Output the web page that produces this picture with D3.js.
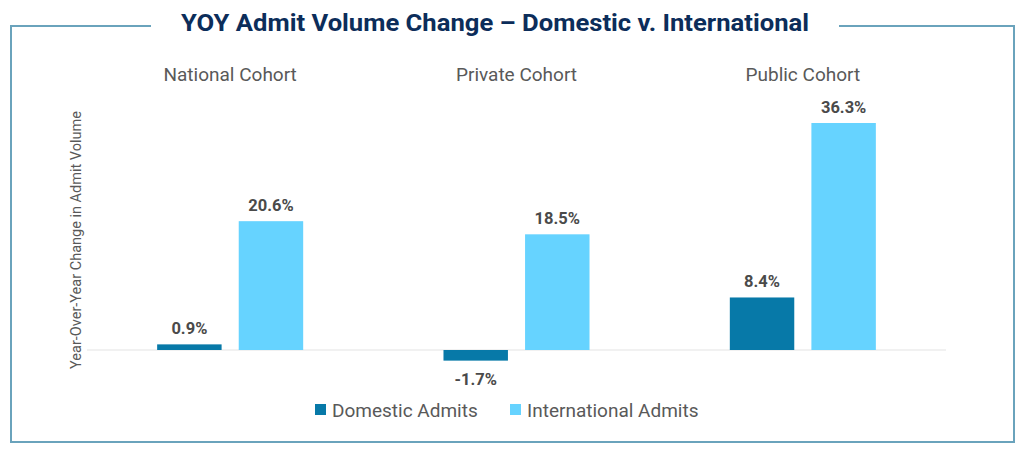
<!DOCTYPE html>
<html>
<head>
<meta charset="utf-8">
<script src="https://cdn.jsdelivr.net/npm/d3@7"></script>
<style>
  html, body { margin: 0; padding: 0; background: #fff; }
  svg { display: block; font-family: Roboto, "Noto Sans", sans-serif; }
</style>
</head>
<body>
<svg id="chart" width="1024" height="456"></svg>
<script>
// chart values
const cohorts = ['National Cohort', 'Private Cohort', 'Public Cohort']
const seriesNames = ['Domestic Admits', 'International Admits']
const domestic = [0.9, -1.7, 8.4]
const international = [20.6, 18.5, 36.3]

const colors = { domestic: '#0779a8', international: '#66d3ff' }
const textGray = '#595959'

const width = 1024, height = 456
const margin = { left: 87, right: 78, top: 123, bottom: 106 }
const svg = d3.select('#chart')

// frame round the chart, broken by the title
const frame = { x0: 11, x1: 1014, y0: 26, y1: 442 }
const titleGap = [151, 839]
const frameColor = '#6aa3bc'
svg.append('path')
    .attr('d', `M${titleGap[0]},${frame.y0} H${frame.x0} V${frame.y1} H${frame.x1} V${frame.y0} H${titleGap[1]}`)
    .attr('fill', 'none')
    .attr('stroke', frameColor)
    .attr('stroke-width', 2)

svg.append('text')
    .attr('x', 495)
    .attr('y', 31)
    .attr('text-anchor', 'middle')
    .attr('font-size', 23.5)
    .attr('font-weight', 700)
    .attr('fill', '#0c2d5a')
    .attr('textLength', 628)
    .attr('lengthAdjust', 'spacingAndGlyphs')
    .text('YOY Admit Volume Change \u2013 Domestic v. International')

const data = cohorts.map((c, i) => ({
    cohort: c,
    values: [
        { key: 'domestic', value: domestic[i] },
        { key: 'international', value: international[i] }
    ]
}))

const x0 = d3.scaleBand()
    .domain(cohorts)
    .range([margin.left, width - margin.right])

const x1 = d3.scaleBand()
    .domain(['domestic', 'international'])
    .range([x0.bandwidth() * 0.245, x0.bandwidth() * 0.755])
    .paddingInner(0.21)

const y = d3.scaleLinear()
    .domain([0, 36.3])
    .range([350, 123])

// zero line
svg.append('line')
    .attr('x1', margin.left)
    .attr('x2', width - margin.right)
    .attr('y1', y(0))
    .attr('y2', y(0))
    .attr('stroke', '#e3e3e3')
    .attr('stroke-width', 1.2)

// cohort labels at the top
svg.append('g')
    .selectAll('text')
    .data(cohorts)
    .join('text')
    .attr('x', d => x0(d) + x0.bandwidth() / 2)
    .attr('y', 81)
    .attr('text-anchor', 'middle')
    .attr('font-size', 19)
    .attr('fill', textGray)
    .text(d => d)

// y axis title
svg.append('text')
    .attr('transform', 'translate(81,240) rotate(-90)')
    .attr('text-anchor', 'middle')
    .attr('font-size', 14.5)
    .attr('fill', textGray)
    .text('Year-Over-Year Change in Admit Volume')

const groups = svg.append('g')
    .selectAll('g')
    .data(data)
    .join('g')
    .attr('transform', d => `translate(${x0(d.cohort)},0)`)

groups.selectAll('rect')
    .data(d => d.values)
    .join('rect')
    .attr('x', d => x1(d.key))
    .attr('width', x1.bandwidth())
    .attr('y', d => y(Math.max(0, d.value)))
    .attr('height', d => Math.abs(y(d.value) - y(0)))
    .attr('fill', d => colors[d.key])

groups.selectAll('text')
    .data(d => d.values)
    .join('text')
    .attr('x', d => x1(d.key) + x1.bandwidth() / 2)
    .attr('y', d => d.value >= 0 ? y(d.value) - 10 : y(d.value) + 24)
    .attr('text-anchor', 'middle')
    .attr('font-size', 16.5)
    .attr('font-weight', 700)
    .attr('fill', '#4a4a4a')
    .text(d => d.value.toFixed(1) + '%')

// legend
const legend = svg.append('g').attr('transform', 'translate(315,410)')
const legendItems = [
    { key: 'domestic', label: seriesNames[0], dx: 0 },
    { key: 'international', label: seriesNames[1], dx: 195 }
]
const item = legend.selectAll('g')
    .data(legendItems)
    .join('g')
    .attr('transform', d => `translate(${d.dx},0)`)
item.append('rect')
    .attr('x', 0)
    .attr('y', -6)
    .attr('width', 11)
    .attr('height', 11)
    .attr('fill', d => colors[d.key])
item.append('text')
    .attr('x', 17)
    .attr('y', 6.5)
    .attr('font-size', 19)
    .attr('fill', textGray)
    .text(d => d.label)
</script>
</body>
</html>
